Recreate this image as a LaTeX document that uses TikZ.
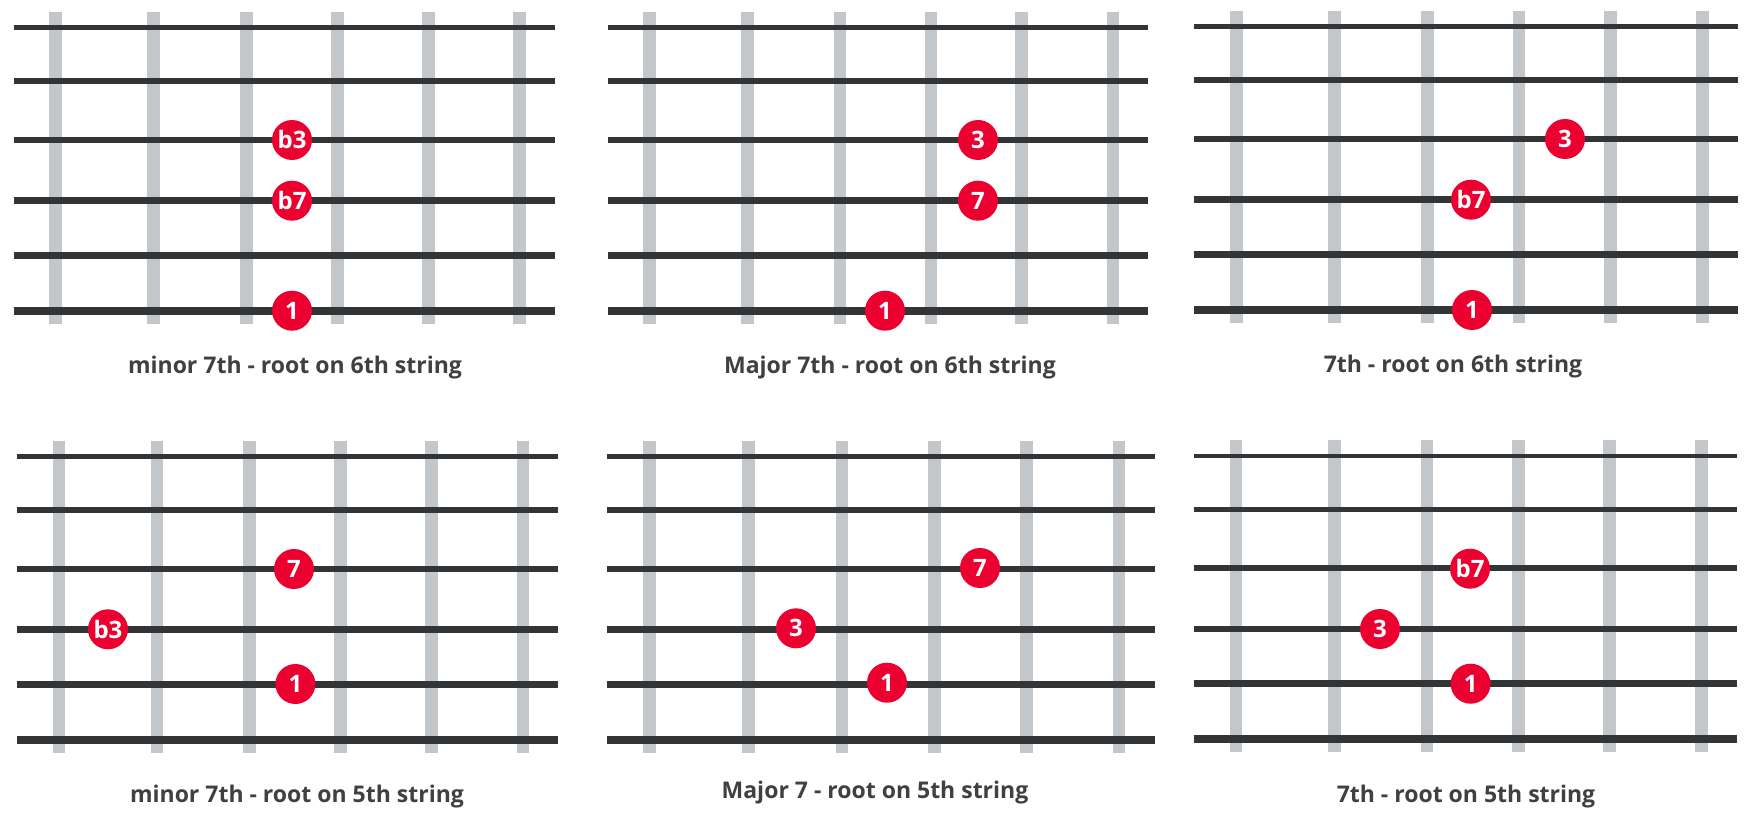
\documentclass[tikz,border=0pt]{standalone}
\usepackage{fontspec}
\setmainfont{Open Sans}
\usetikzlibrary{positioning}
\definecolor{stringGray}{RGB}{51,52,54}
\definecolor{fretGray}{RGB}{196,199,202}
\definecolor{toneRed}{RGB}{236,0,48}
\definecolor{captionGray}{RGB}{64,64,64}
\tikzset{
  gstring/.style={draw=stringGray},
  fret/.style={draw=fretGray, line width=12.7pt},
  tone/.style={circle, fill=toneRed, text=white, inner sep=0pt, minimum size=40pt, font=\bfseries\fontsize{24}{24}\selectfont},
  caption/.style={anchor=base, text=captionGray, font=\bfseries\fontsize{23}{23}\selectfont}
}
% x0, y0 (top string), length of the strings
\newcommand{\fretboard}[3]{%
  \begin{scope}[shift={(#1,#2)}, x=#3pt]
    \foreach \f in {0.078,0.259,0.430,0.598,0.766,0.935}
      \draw[fret] (\f,-16) -- (\f,296);
    \foreach \s/\w in {0/4.7,53.3/5.3,112.3/6.2,173/6.8,227.6/7.4,283/8.4}
      \draw[gstring, line width=\w pt] (0,\s) -- (1,\s);
  \end{scope}}

\begin{document}
\begin{tikzpicture}[x=1pt,y=-1pt]
  \fill[white] (0,0) rectangle (1761,829);
  \useasboundingbox (0,0) rectangle (1761,829);

  % root on 6th string
  \fretboard{13.5}{27.7}{541.5}
  \fretboard{607.6}{27.7}{540.6}
  \fretboard{1194}{26.7}{543.5}

  \node[tone] (minSixThird) at (292,140) {b3};
  \node[tone] (minSixSeventh) at (292,200.7) {b7};
  \node[tone] (minSixRoot) at (292,310.7) {1};
  \node[caption] (minSixCap) at (295,373) {minor 7th - root on 6th string};

  \node[tone] (majSixThird) at (978,140) {3};
  \node[tone] (majSixSeventh) at (978,200.7) {7};
  \node[tone] (majSixRoot) at (885,310.7) {1};
  \node[caption] (majSixCap) at (890,373) {Major 7th - root on 6th string};

  \node[tone] (domSixThird) at (1565,139) {3};
  \node[tone] (domSixSeventh) at (1471,199.7) {b7};
  \node[tone] (domSixRoot) at (1472,310) {1};
  \node[caption] (domSixCap) at (1453,372) {7th - root on 6th string};

  % root on 5th string
  \fretboard{16.8}{456.7}{541.3}
  \fretboard{606.5}{456.7}{548}
  \fretboard{1193.5}{456}{543}

  \node[tone] (minFiveSeventh) at (294,569) {7};
  \node[tone] (minFiveThird) at (108,629.3) {b3};
  \node[tone] (minFiveRoot) at (295.4,684) {1};
  \node[caption] (minFiveCap) at (297,802) {minor 7th - root on 5th string};

  \node[tone] (majFiveSeventh) at (980,568) {7};
  \node[tone] (majFiveThird) at (796,628.3) {3};
  \node[tone] (majFiveRoot) at (887,682.7) {1};
  \node[caption] (majFiveCap) at (875,798) {Major 7 - root on 5th string};

  \node[tone] (domFiveSeventh) at (1470,568.7) {b7};
  \node[tone] (domFiveThird) at (1380,629) {3};
  \node[tone] (domFiveRoot) at (1470.6,683.7) {1};
  \node[caption] (domFiveCap) at (1466,802) {7th - root on 5th string};
\end{tikzpicture}
\end{document}
